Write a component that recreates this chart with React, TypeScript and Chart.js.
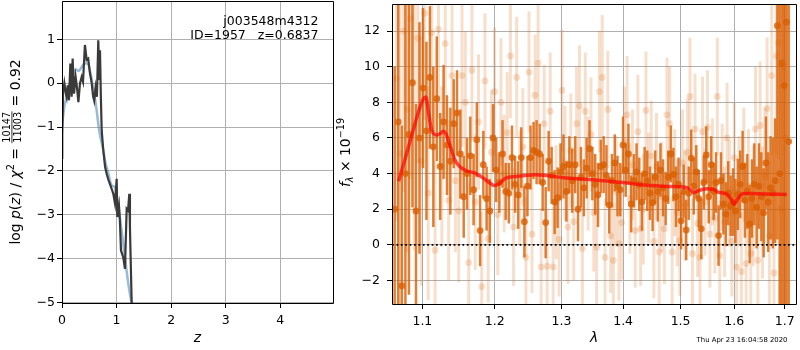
import React, { useEffect, useRef } from 'react';
import { Chart, registerables } from 'chart.js';
Chart.register(...registerables);

const FONT = "'DejaVu Sans', sans-serif";
Chart.defaults.font.family = FONT;
Chart.defaults.color = '#000';

// ---------- left panel: log p(z) ----------
const pzZ = [0, 0.005, 0.02, 0.043, 0.065, 0.085, 0.104, 0.128, 0.153, 0.177, 0.195, 0.22, 0.25, 0.275, 0.3, 0.33, 0.36, 0.385, 0.42, 0.452, 0.48, 0.513, 0.544, 0.57, 0.59, 0.615, 0.64, 0.665, 0.683, 0.696, 0.712, 0.727, 0.757, 0.79, 0.818, 0.85, 0.879, 0.922, 0.94, 0.971, 1.002, 1.013, 1.044, 1.06, 1.081, 1.123, 1.154, 1.185, 1.21, 1.233, 1.245, 1.277, 1.30];
const pzLog = [-1.7, -1.2, -0.2, 0.0, -0.2, -0.31, -0.05, -0.39, 0.45, -0.31, 0.56, -0.24, 0.14, -0.1, -0.43, 0.0, 0.14, 0.03, 0.87, 0.53, 0.56, 0.22, 0.0, -0.3, -0.4, -0.1, -0.31, 0.98, 0.1, 0.75, -0.3, -1.07, -1.53, -1.91, -2.06, -2.2, -2.3, -2.45, -2.52, -2.74, -2.18, -3.05, -2.79, -3.1, -3.81, -3.97, -4.23, -2.86, -2.9, -2.52, -3.28, -5.02, -5.6];
const priorZ = [0, 0.042, 0.085, 0.128, 0.177, 0.226, 0.25, 0.31, 0.36, 0.42, 0.47, 0.53, 0.59, 0.635, 0.68, 0.757, 0.788, 0.85, 0.91, 0.97, 1.01, 1.06, 1.154, 1.215, 1.276, 1.31];
const priorLog = [-1.0, -0.54, -0.31, -0.08, 0.11, 0.26, 0.31, 0.28, 0.37, 0.45, 0.45, 0.18, -0.24, -0.62, -1.07, -1.53, -1.76, -2.06, -2.33, -2.37, -2.6, -3.05, -3.97, -4.57, -5.02, -5.3];
const pzXTicks = [0, 1, 2, 3, 4];
const pzYTicks = [-5, -4, -3, -2, -1, 0, 1];

// ---------- right panel: spectrum ----------
const darkLam = [
  1.0640, 1.0686, 1.0732, 1.0778, 1.0824, 1.0870, 1.0916, 1.0962, 1.1008, 1.1054,
  1.1100, 1.1146, 1.1192, 1.1238, 1.1284, 1.1330, 1.1376, 1.1422, 1.1468, 1.1514,
  1.1560, 1.1606, 1.1652, 1.1698, 1.1744, 1.1790, 1.1836, 1.1882, 1.1928, 1.1974,
  1.2020, 1.2066, 1.2112, 1.2158, 1.2204, 1.2250, 1.2296, 1.2342, 1.2388, 1.2434,
  1.2480, 1.2526, 1.2572, 1.2618, 1.2664, 1.2710, 1.2756, 1.2802, 1.2848, 1.2894,
  1.2940, 1.2986, 1.3032, 1.3078, 1.3124, 1.3170, 1.3216, 1.3262, 1.3308, 1.3354,
  1.3400, 1.3446, 1.3492, 1.3538, 1.3584, 1.3630, 1.3676, 1.3722, 1.3768, 1.3814,
  1.3860, 1.3906, 1.3952, 1.3998, 1.4044, 1.4090, 1.4136, 1.4182, 1.4228, 1.4274,
  1.4320, 1.4366, 1.4412, 1.4458, 1.4504, 1.4550, 1.4596, 1.4642, 1.4688, 1.4734,
  1.4780, 1.4826, 1.4872, 1.4918, 1.4964, 1.5010, 1.5056, 1.5102, 1.5148, 1.5194,
  1.5240, 1.5286, 1.5332, 1.5378, 1.5424, 1.5470, 1.5516, 1.5562, 1.5608, 1.5654,
  1.5700, 1.5746, 1.5792, 1.5838, 1.5884, 1.5930, 1.5976, 1.6022, 1.6068, 1.6114,
  1.6160, 1.6206, 1.6252, 1.6298, 1.6344, 1.6390, 1.6436, 1.6482, 1.6528, 1.6574,
  1.6620, 1.6666, 1.6712, 1.6758, 1.6804, 1.6850, 1.6896, 1.6942, 1.6988, 1.7034,
  1.7080,
];
const darkFlux = [
  2.0, 6.9, -2.3, 4.0, 6.2, 9.1, 1.9, 6.0, 8.8, 6.4,
  9.4, 5.5, 8.2, 4.4, 6.9, 5.6, 4.7, 6.8, 7.4, 5.1,
  2.7, 4.0, 5.0, 3.1, 5.9, 0.8, 4.5, 2.6, 1.9, 6.0,
  4.2, 3.5, 5.1, 3.0, 2.9, 4.9, 3.4, 2.8, 4.9, 1.3,
  3.3, 4.9, 5.3, 5.2, 5.1, 3.5, 1.25, 4.7, 3.9, 2.4,
  2.65, 4.1, 4.4, 3.0, 4.5, 3.6, 4.5, 2.0, 3.8, 3.2,
  4.3, 5.4, 4.0, 3.4, 2.8, 4.4, 4.5, 3.9, 2.24, 3.6,
  4.6, 3.3, 3.1, 5.6, 4.2, 5.1, 2.3, 3.6, 4.1, 3.4,
  2.4, 4.0, 3.6, 2.9, 2.37, 3.8, 3.0, 4.2, 3.2, 2.6,
  3.8, 5.1, 3.95, 2.7, 3.4, 1.35, 3.0, 0.84, 2.9, 4.87,
  3.3, 4.1, 2.6, 0.9, 3.5, 5.05, 2.7, 4.5, 3.0, 3.5,
  0.52, 3.6, 2.28, 1.72, 2.9, 2.2, 2.4, 1.9, 2.83, 3.4,
  4.4, 2.5, 3.0, 1.17, 2.6, 3.4, 2.1, 3.3, 2.7, 1.8,
  4.6, 2.4, 3.2, 2.9, 3.6, 12.3, 4.0, 10.2, 8.94, 12.5,
  5.8,
];
const darkErr = [
  8.0, 11, 9.0, 12, 9.0, 7.0, 6.0, 6.5, 4.5, 5.0,
  4.0, 4.5, 3.5, 3.0, 3.2, 2.8, 3.0, 2.5, 2.4, 2.5,
  2.3, 2.0, 2.2, 2.0, 2.1, 2.0, 1.9, 1.8, 1.8, 1.9,
  1.8, 1.7, 1.9, 1.6, 1.7, 1.8, 1.6, 1.9, 1.7, 2.0,
  1.7, 1.8, 1.6, 1.8, 1.7, 1.6, 2.0, 1.7, 1.6, 1.8,
  1.7, 1.6, 1.8, 1.7, 1.6, 1.8, 1.6, 1.8, 1.7, 1.6,
  1.7, 1.6, 1.5, 1.7, 1.8, 1.5, 1.6, 1.7, 1.6, 1.5,
  1.6, 1.7, 1.5, 1.6, 1.5, 1.7, 1.6, 1.5, 1.6, 1.5,
  1.6, 1.5, 1.7, 1.5, 1.6, 1.5, 1.7, 1.5, 1.6, 1.5,
  1.5, 1.6, 1.5, 1.7, 1.5, 1.6, 1.5, 1.7, 1.5, 1.6,
  1.6, 1.5, 1.6, 1.7, 1.5, 1.6, 1.5, 1.6, 1.6, 1.7,
  1.7, 1.6, 1.7, 1.8, 1.8, 1.7, 1.9, 1.8, 2.0, 1.9,
  2.0, 2.1, 2.1, 2.2, 2.2, 2.3, 2.3, 2.4, 2.5, 2.5,
  2.6, 2.8, 2.9, 3.1, 3.5, 12, 14, 15, 16, 18,
  14,
];
const lightLam = [
  1.0663, 1.0709, 1.0755, 1.0801, 1.0847, 1.0893, 1.0939, 1.0985, 1.1031, 1.1077,
  1.1123, 1.1169, 1.1215, 1.1261, 1.1307, 1.1353, 1.1399, 1.1445, 1.1491, 1.1537,
  1.1583, 1.1629, 1.1675, 1.1721, 1.1767, 1.1813, 1.1859, 1.1905, 1.1951, 1.1997,
  1.2043, 1.2089, 1.2135, 1.2181, 1.2227, 1.2273, 1.2319, 1.2365, 1.2411, 1.2457,
  1.2503, 1.2549, 1.2595, 1.2641, 1.2687, 1.2733, 1.2779, 1.2825, 1.2871, 1.2917,
  1.2963, 1.3009, 1.3055, 1.3101, 1.3147, 1.3193, 1.3239, 1.3285, 1.3331, 1.3377,
  1.3423, 1.3469, 1.3515, 1.3561, 1.3607, 1.3653, 1.3699, 1.3745, 1.3791, 1.3837,
  1.3883, 1.3929, 1.3975, 1.4021, 1.4067, 1.4113, 1.4159, 1.4205, 1.4251, 1.4297,
  1.4343, 1.4389, 1.4435, 1.4481, 1.4527, 1.4573, 1.4619, 1.4665, 1.4711, 1.4757,
  1.4803, 1.4849, 1.4895, 1.4941, 1.4987, 1.5033, 1.5079, 1.5125, 1.5171, 1.5217,
  1.5263, 1.5309, 1.5355, 1.5401, 1.5447, 1.5493, 1.5539, 1.5585, 1.5631, 1.5677,
  1.5723, 1.5769, 1.5815, 1.5861, 1.5907, 1.5953, 1.5999, 1.6045, 1.6091, 1.6137,
  1.6183, 1.6229, 1.6275, 1.6321, 1.6367, 1.6413, 1.6459, 1.6505, 1.6551, 1.6597,
  1.6643, 1.6689, 1.6735, 1.6781, 1.6827, 1.6873, 1.6919, 1.6965, 1.7011,
];
const lightFlux = [
  9.35, 5.1, 12.0, 7.6, 12.7, 6.7, 11.6, 4.7, 13.0, 2.9,
  11.9, -0.3, 12.1, 4.4, 11.3, 2.5, 9.5, 3.6, 1.9, 9.5,
  8.0, -1.0, 9.8, 2.4, 6.9, -2.35, 9.2, 0.35, 5.2, 8.6,
  1.7, 8.0, 4.0, 6.3, 10.6, 1.0, 9.4, 3.2, 5.5, -0.7,
  9.7, 0.6, 8.4, 10.2, -1.24, 6.8, -1.2, 7.5, -1.24, 2.4,
  0.3, 8.67, 4.6, 1.0, 5.3, 1.3, 6.8, 7.8, -0.2, 7.5,
  4.0, 6.2, 1.8, -0.13, 8.6, 9.4, -0.7, 7.6, 0.5, -0.87,
  3.0, 0.07, 1.25, 5.8, 7.3, 2.6, 4.5, 0.8, 6.35, 0.9,
  2.0, 7.55, 3.2, 5.0, 0.2, 4.4, -0.4, 2.7, 0.9, 7.3,
  6.8, -0.4, 3.5, 1.8, 0.24, 4.6, 2.2, 5.2, 8.33, -0.5,
  6.5, 1.2, -0.69, 6.35, 2.4, 6.6, 0.6, 4.1, 1.5, 8.33,
  -0.6, 3.8, 1.3, 6.0, 2.9, 0.2, 4.9, -1.25, 3.0, -1.5,
  4.5, -1.05, 3.3, -0.5, 2.2, 6.5, -0.87, 6.7, 1.8, 3.9,
  7.65, 0.5, 9.5, -1.58, 10.6, 11.35, 2.0, 10.0, 6.0,
];
const lightErr = [
  8, 10, 9, 8, 9, 7, 7, 7, 6, 6,
  5.5, 5, 5, 4.5, 5, 4.5, 4.5, 4, 4, 4,
  4, 4.5, 4, 3.8, 3.8, 4.2, 3.8, 3.6, 3.5, 3.6,
  3.4, 3.6, 3.3, 3.4, 3.5, 3.3, 3.4, 3.2, 3.3, 3.4,
  3.4, 3.3, 3.4, 3.5, 3.3, 3.3, 3.2, 3.3, 3.4, 3.2,
  3.2, 3.4, 3.2, 3.2, 3.2, 3.3, 3.2, 3.4, 3.3, 3.3,
  3.2, 3.2, 3.3, 3.2, 3.4, 3.5, 3.3, 3.3, 3.2, 3.2,
  3.1, 3.2, 3.2, 3.1, 3.3, 3.1, 3.1, 3.2, 3.2, 3.2,
  3.1, 3.3, 3.1, 3.1, 3.2, 3.0, 3.2, 3.1, 3.1, 3.2,
  3.2, 3.1, 3.0, 3.0, 3.1, 3.0, 3.1, 3.0, 3.3, 3.1,
  3.1, 3.0, 3.1, 3.1, 3.0, 3.2, 3.0, 3.0, 3.1, 3.3,
  3.1, 3.0, 3.1, 3.1, 3.0, 3.1, 3.1, 3.2, 3.1, 3.3,
  3.2, 3.3, 3.2, 3.3, 3.4, 3.5, 3.5, 3.6, 3.7, 3.8,
  4.0, 4.2, 4.5, 5.0, 5.5, 6.5, 8, 10, 12,
];
const modelLam = [1.069, 1.0777, 1.0862, 1.0948, 1.1013, 1.1045, 1.108, 1.1123, 1.119, 1.124, 1.128, 1.132, 1.137, 1.1437, 1.1505, 1.16, 1.17, 1.183, 1.192, 1.1994, 1.205, 1.2166, 1.235, 1.26, 1.28, 1.30, 1.33, 1.36, 1.40, 1.44, 1.48, 1.51, 1.518, 1.524, 1.53, 1.5465, 1.56, 1.569, 1.585, 1.593, 1.5997, 1.606, 1.6165, 1.63, 1.66, 1.704];
const modelFlux = [3.57, 4.87, 6.17, 7.46, 8.2, 8.3, 7.46, 6.44, 6.17, 6.25, 6.38, 6.2, 5.6, 4.78, 4.4, 4.15, 4.05, 3.76, 3.5, 3.33, 3.4, 3.76, 3.85, 3.94, 3.88, 3.78, 3.7, 3.62, 3.5, 3.35, 3.28, 3.22, 3.1, 2.93, 3.0, 3.15, 3.12, 2.96, 2.85, 2.6, 2.28, 2.55, 2.87, 2.88, 2.86, 2.83];
const specXTicks = [1.1, 1.2, 1.3, 1.4, 1.5, 1.6, 1.7];
const specYTicks = [-2, 0, 2, 4, 6, 8, 10, 12];
const LAM_MIN = 1.0606;
const LAM_MAX = 1.7231;

const fmt = (v: number) => (v < 0 ? '\u2212' + Math.abs(v) : String(v));
const pts = (xs: number[], ys: number[]) => xs.map((x, i) => ({ x, y: ys[i] }));

type Piece = { t?: string; s: number; it?: boolean; dy?: number; frac?: [string, string] };

function fnt(p: Piece) {
  return `${p.it ? 'italic ' : ''}${p.s}px ${FONT}`;
}
function pieceW(ctx: CanvasRenderingContext2D, p: Piece) {
  ctx.font = fnt(p);
  if (p.frac) {
    return Math.max(ctx.measureText(p.frac[0]).width, ctx.measureText(p.frac[1]).width) + 2;
  }
  return ctx.measureText(p.t || '').width;
}
function drawRich(ctx: CanvasRenderingContext2D, pieces: Piece[], cx: number, cy: number, frac?: { num: number; den: number; bar: number }) {
  ctx.save();
  ctx.translate(cx, cy);
  ctx.rotate(-Math.PI / 2);
  ctx.fillStyle = '#000';
  ctx.strokeStyle = '#000';
  ctx.textBaseline = 'alphabetic';
  ctx.textAlign = 'left';
  const ws = pieces.map((p) => pieceW(ctx, p));
  const total = ws.reduce((a, b) => a + b, 0);
  let x = -total / 2;
  pieces.forEach((p, i) => {
    ctx.font = fnt(p);
    if (p.frac && frac) {
      const w = ws[i];
      const nw = ctx.measureText(p.frac[0]).width;
      const dw = ctx.measureText(p.frac[1]).width;
      ctx.fillText(p.frac[0], x + (w - nw) / 2, frac.num);
      ctx.fillText(p.frac[1], x + (w - dw) / 2, frac.den);
      ctx.lineWidth = 0.8;
      ctx.beginPath();
      ctx.moveTo(x + 0.5, frac.bar);
      ctx.lineTo(x + w - 0.5, frac.bar);
      ctx.stroke();
    } else {
      ctx.fillText(p.t || '', x, p.dy || 0);
    }
    x += ws[i];
  });
  ctx.restore();
}

function boxPlugin() {
  return {
    id: 'box',
    afterDraw(chart: any) {
      const { ctx, chartArea: a } = chart;
      ctx.save();
      ctx.strokeStyle = '#000';
      ctx.lineWidth = 1;
      ctx.beginPath();
      ctx.rect(a.left + 0.5, a.top + 0.5, a.right - a.left, a.bottom - a.top);
      ctx.stroke();
      ctx.restore();
    },
  };
}

const S = 13.9;
const s2 = 9.7;

function axisBase(ticks: number[], label: (v: number) => string, pad: number) {
  return {
    afterBuildTicks: (s: any) => {
      s.ticks = ticks.map((v) => ({ value: v }));
    },
    ticks: {
      font: { size: 12.5 },
      color: '#000',
      padding: pad,
      maxRotation: 0,
      autoSkip: false,
      callback: (v: any) => label(Number(v)),
    },
    grid: { color: '#b0b0b0', lineWidth: 1, tickColor: '#000', tickLength: 5, tickWidth: 1 },
    border: { display: false },
  };
}

const fitX = (h: number) => (s: any) => {
  s.height = h;
  s.paddingLeft = 0;
  s.paddingRight = 0;
};
const fitY = (w: number) => (s: any) => {
  s.width = w;
  s.paddingTop = 0;
  s.paddingBottom = 0;
};

export default function App() {
  const leftRef = useRef<HTMLCanvasElement>(null);
  const rightRef = useRef<HTMLCanvasElement>(null);

  useEffect(() => {
    const leftText = {
      id: 'leftText',
      afterDraw(chart: any) {
        const ctx = chart.ctx as CanvasRenderingContext2D;
        ctx.save();
        ctx.fillStyle = '#000';
        ctx.font = `12.5px ${FONT}`;
        ctx.textAlign = 'right';
        ctx.textBaseline = 'alphabetic';
        ctx.fillText('j003548m4312', 318.5, 25);
        ctx.fillText('ID=1957   z=0.6837', 318.5, 39);
        ctx.restore();
        drawRich(
          ctx,
          [
            { t: 'log ', s: S },
            { t: 'p', s: S, it: true },
            { t: '(', s: S },
            { t: 'z', s: S, it: true },
            { t: ') / ', s: S },
            { t: '\u03c7', s: S, it: true },
            { t: '2', s: s2, dy: -6 },
            { t: ' = ', s: S },
            { s: s2, frac: ['10147', '11003'] },
            { t: ' = 0.92', s: S },
          ],
          19.5,
          152,
          { num: -9.5, den: 1.2, bar: -7.6 }
        );
      },
    };

    const left = new Chart(leftRef.current as HTMLCanvasElement, {
      type: 'scatter',
      data: {
        datasets: [
          {
            data: pts(pzZ, pzLog),
            showLine: true,
            borderColor: '#3a3a3a',
            borderWidth: 2.2,
            pointRadius: 0,
            tension: 0,
            clip: 0,
          } as any,
          {
            data: pts(priorZ, priorLog),
            showLine: true,
            borderColor: 'rgba(70,130,180,0.55)',
            borderWidth: 2.5,
            pointRadius: 0,
            cubicInterpolationMode: 'monotone',
            clip: 0,
          } as any,
        ],
      },
      options: {
        responsive: false,
        animation: false,
        devicePixelRatio: 1,
        layout: { padding: { left: 0, right: 7, top: 1, bottom: 0 } },
        plugins: { legend: { display: false }, tooltip: { enabled: false } },
        events: [],
        scales: {
          x: {
            type: 'linear',
            min: 0,
            max: 4.966,
            ...axisBase(pzXTicks, fmt, 5),
            afterFit: fitX(47),
            title: { display: true, text: 'z', font: { size: S, style: 'italic' }, color: '#000', padding: { top: 0, bottom: 3 } },
          } as any,
          y: {
            type: 'linear',
            min: -5.007,
            max: 1.872,
            ...axisBase(pzYTicks, fmt, 2),
            afterFit: fitY(62),
          } as any,
        },
      },
      plugins: [boxPlugin(), leftText],
    });

    const errSets = [
      { index: 2, lam: darkLam, flux: darkFlux, err: darkErr, color: 'rgba(217,95,2,0.8)', width: 2.5 },
      { index: 3, lam: lightLam, flux: lightFlux, err: lightErr, color: 'rgba(217,95,2,0.2)', width: 3 },
    ];
    const errPlugin = {
      id: 'errbars',
      beforeDatasetDraw(chart: any, args: any) {
        const s = errSets.find((q) => q.index === args.index);
        if (!s) return;
        const { ctx, chartArea: a, scales } = chart;
        const xs = scales.x;
        const ys = scales.y;
        ctx.save();
        ctx.beginPath();
        ctx.rect(a.left, a.top, a.right - a.left, a.bottom - a.top);
        ctx.clip();
        ctx.strokeStyle = s.color;
        ctx.lineWidth = s.width;
        ctx.lineCap = 'butt';
        for (let i = 0; i < s.lam.length; i++) {
          const px = xs.getPixelForValue(s.lam[i]);
          const y1 = ys.getPixelForValue(s.flux[i] - s.err[i]);
          const y2 = ys.getPixelForValue(s.flux[i] + s.err[i]);
          ctx.beginPath();
          ctx.moveTo(px, y1);
          ctx.lineTo(px, y2);
          ctx.stroke();
        }
        ctx.restore();
      },
    };
    const rightText = {
      id: 'rightText',
      afterDraw(chart: any) {
        const ctx = chart.ctx as CanvasRenderingContext2D;
        drawRich(
          ctx,
          [
            { t: 'f', s: S, it: true },
            { t: '\u03bb', s: s2, it: true, dy: 3 },
            { t: ' \u00d7 10', s: S },
            { t: '\u221219', s: s2, dy: -6 },
          ],
          20,
          152.5
        );
        ctx.save();
        ctx.fillStyle = '#000';
        ctx.font = `6.9px ${FONT}`;
        ctx.textAlign = 'right';
        ctx.textBaseline = 'alphabetic';
        ctx.fillText('Thu Apr 23 16:04:58 2020', 457.5, 342);
        ctx.restore();
      },
    };

    const right = new Chart(rightRef.current as HTMLCanvasElement, {
      type: 'scatter',
      data: {
        datasets: [
          {
            data: [
              { x: LAM_MIN, y: 0 },
              { x: LAM_MAX, y: 0 },
            ],
            showLine: true,
            borderColor: '#000',
            borderWidth: 1.8,
            borderDash: [1.8, 2.6],
            pointRadius: 0,
            clip: 0,
          } as any,
          {
            data: pts(modelLam, modelFlux),
            showLine: true,
            borderColor: 'rgba(255,0,0,0.7)',
            borderWidth: 3.5,
            pointRadius: 0,
            cubicInterpolationMode: 'monotone',
            clip: 0,
          } as any,
          {
            data: pts(darkLam, darkFlux),
            pointRadius: 3.4,
            pointBackgroundColor: 'rgba(217,95,2,0.8)',
            pointBorderWidth: 0,
            clip: 0,
          } as any,
          {
            data: pts(lightLam, lightFlux),
            pointRadius: 3.4,
            pointBackgroundColor: 'rgba(217,95,2,0.2)',
            pointBorderWidth: 0,
            clip: 0,
          } as any,
        ],
      },
      options: {
        responsive: false,
        animation: false,
        devicePixelRatio: 1,
        layout: { padding: { left: 0, right: 1, top: 1, bottom: 0 } },
        plugins: { legend: { display: false }, tooltip: { enabled: false } },
        events: [],
        scales: {
          x: {
            type: 'logarithmic',
            min: LAM_MIN,
            max: LAM_MAX,
            ...axisBase(specXTicks, (v) => v.toFixed(1), 5),
            afterFit: fitX(46),
            title: { display: true, text: '\u03bb', font: { size: S, style: 'italic' }, color: '#000', padding: { top: 0, bottom: 3 } },
          } as any,
          y: {
            type: 'linear',
            min: -3.32,
            max: 13.52,
            ...axisBase(specYTicks, fmt, 7),
            afterFit: fitY(62),
          } as any,
        },
      },
      plugins: [boxPlugin(), errPlugin, rightText],
    });

    return () => {
      left.destroy();
      right.destroy();
    };
  }, []);

  return (
    <div style={{ position: 'fixed', left: 0, top: 0, width: 800, height: 350, background: '#fff' }}>
      <canvas ref={leftRef} width={340} height={350} style={{ position: 'absolute', left: 0, top: 0, width: 340, height: 350 }} />
      <canvas ref={rightRef} width={470} height={350} style={{ position: 'absolute', left: 330, top: 0, width: 470, height: 350 }} />
    </div>
  );
}
